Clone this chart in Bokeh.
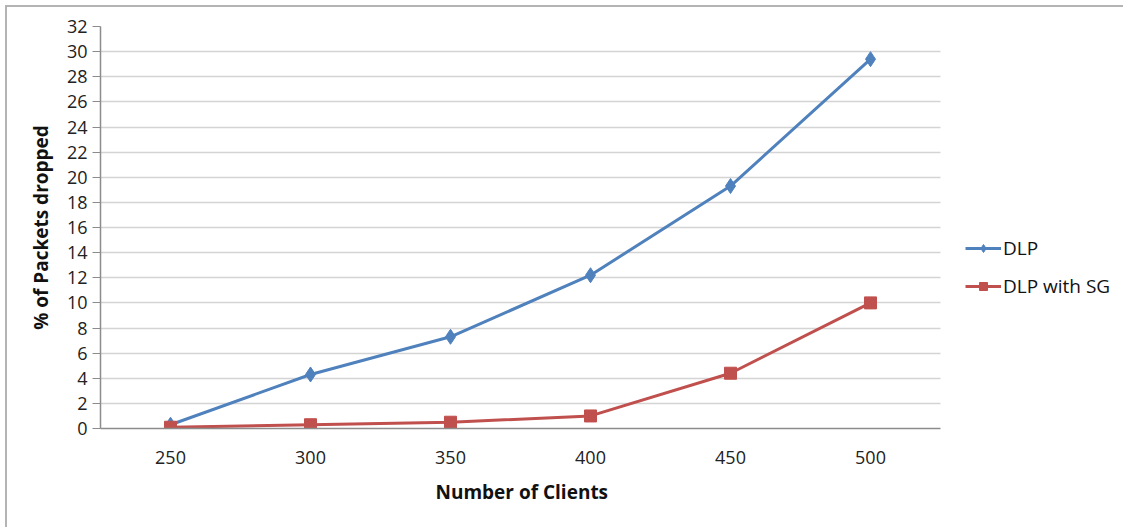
from bokeh.plotting import figure
from bokeh.models import Range1d, FixedTicker, Legend, LegendItem, Title
from bokeh.embed import file_html
from bokeh.resources import INLINE

clients = [250, 300, 350, 400, 450, 500]
dlp = [0.3, 4.3, 7.3, 12.2, 19.3, 29.4]
dlp_sg = [0.1, 0.3, 0.5, 1.0, 4.4, 10.0]
y_ticks = list(range(0, 33, 2))
x_title = "Number of Clients"
y_title = "% of Packets dropped"

FONT = "Open Sans"
BLUE = "#4F81BD"
RED = "#C0504D"

W, H = 1118, 522
BL, BR, BT, BB = 93, 0, 19, 101
frame_w = W - BL - BR
cat_px = 140.0                      # pixel width of one category slot
step = clients[1] - clients[0]
x_lo = clients[0] - step / 2
x_hi_data = clients[-1] + step / 2
x_hi = x_lo + frame_w / cat_px * step   # frame extends under the legend area

p = figure(width=W, height=H, x_range=Range1d(x_lo, x_hi), y_range=Range1d(0, 32),
           output_backend="svg", toolbar_location=None,
           min_border_left=BL, min_border_right=BR, min_border_top=BT, min_border_bottom=BB)
p.margin = (5, 0, 0, 5)
p.styles = {"border-left": "2px solid #b4b4b4", "border-top": "2px solid #b4b4b4"}
p.outline_line_color = None

p.xaxis.ticker = FixedTicker(ticks=clients)
p.xaxis.bounds = (x_lo, x_hi_data)
p.yaxis.ticker = FixedTicker(ticks=y_ticks)
p.ygrid.ticker = FixedTicker(ticks=y_ticks)
p.ygrid.cross_bounds = (x_lo, x_hi_data)
p.ygrid.grid_line_color = "#d4d4d4"
p.ygrid.grid_line_width = 1.5
p.xgrid.grid_line_color = None

for ax in (p.xaxis[0], p.yaxis[0]):
    ax.axis_line_color = "#8c8c8c"
    ax.axis_line_width = 1.5
    ax.major_label_text_font = FONT
    ax.major_label_text_font_size = "18px"
    ax.major_label_text_color = "#222222"
    ax.axis_label_text_font = FONT
    ax.axis_label_text_font_size = "19px"
    ax.axis_label_text_font_style = "bold"
    ax.axis_label_text_color = "#111111"
    ax.minor_tick_line_color = None

p.yaxis.major_tick_line_color = "#8c8c8c"
p.yaxis.major_tick_out = 8
p.yaxis.major_tick_in = 0
p.yaxis.major_label_standoff = 5
p.yaxis.axis_label = y_title
p.yaxis.axis_label_standoff = 10

p.xaxis.major_tick_line_color = None
p.xaxis.major_label_standoff = 16

xt = Title(text=x_title, align="left", offset=335, text_font=FONT, text_font_size="19px",
           text_font_style="bold", text_color="#111111", standoff=20)
p.add_layout(xt, "below")

l1 = p.line(clients, dlp, line_color=BLUE, line_width=3)
m1 = p.scatter(clients, dlp, marker="diamond", size=15, fill_color=BLUE, line_color=BLUE)
l2 = p.line(clients, dlp_sg, line_color=RED, line_width=3)
m2 = p.scatter(clients, dlp_sg, marker="square", size=12, fill_color=RED, line_color=RED)

legend = Legend(items=[LegendItem(label="DLP", renderers=[l1, m1]),
                       LegendItem(label="DLP with SG", renderers=[l2, m2])],
                location=(865, 129), orientation="vertical")
legend.border_line_color = None
legend.background_fill_alpha = 0
legend.label_text_font = FONT
legend.label_text_font_size = "19px"
legend.label_text_color = "#111111"
legend.glyph_width = 36
legend.glyph_height = 20
legend.label_height = 20
legend.label_standoff = 2
legend.spacing = 12
legend.padding = 0
legend.margin = 0
p.add_layout(legend, "center")

open("out.html", "w").write(file_html(p, INLINE))
